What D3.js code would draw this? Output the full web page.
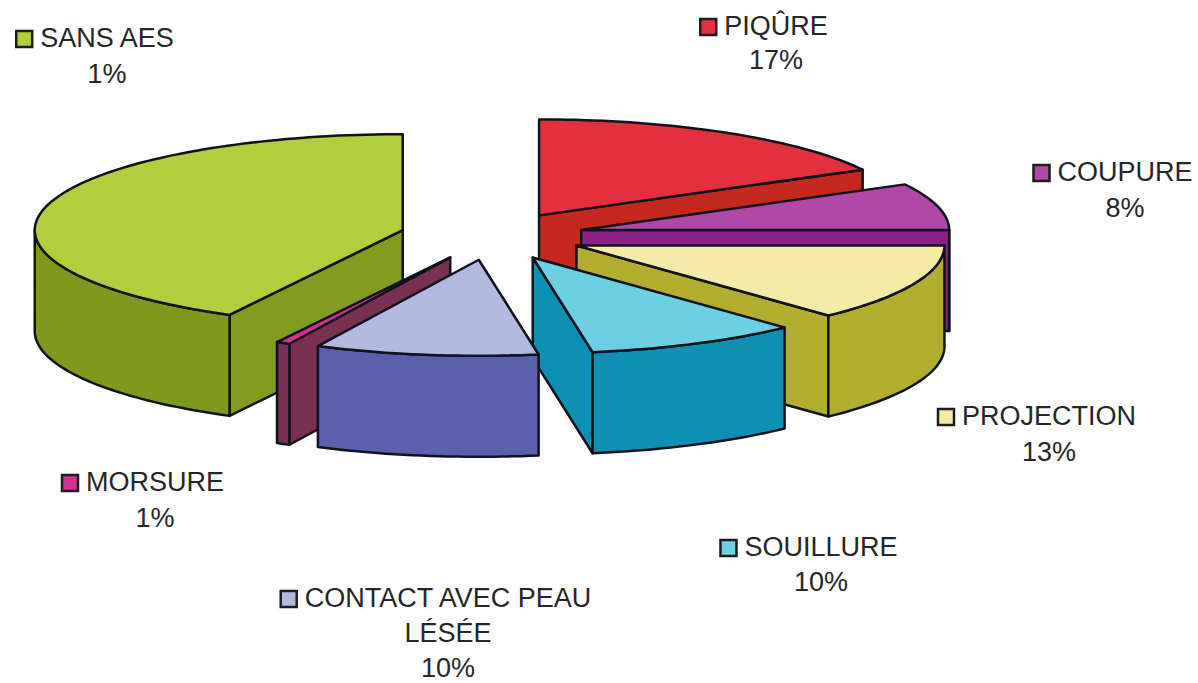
<!DOCTYPE html>
<html lang="fr">
<head>
  <meta charset="UTF-8">
  <title>Répartition des AES</title>
  <script src="https://d3js.org/d3.v7.min.js"></script>
</head>
<style>
  body { margin: 0; background: white; }
  text {
    font-family: "Liberation Sans", Arial, sans-serif;
    font-size: 27px;
    fill: #262626;
    text-anchor: middle;
  }
  .edge {
    stroke: #11131c;
    stroke-width: 2.5px;
    stroke-linejoin: round;
  }
  .swatch {
    stroke: #1c1c1c;
    stroke-width: 2.5px;
  }
</style>
<body>
<svg id="chart" width="1198" height="683"></svg>

<script>
  // Clockwise from 12 o'clock. The printed labels do not add up to the drawn
  // slices, so the share of each slice is read from the picture on its own.
  const categories = ["PIQÛRE", "COUPURE", "PROJECTION", "SOUILLURE", "CONTACT AVEC PEAU", "MORSURE", "SANS AES"];
  const percentLabels = ["17%", "8%", "13%", "10%", "10%", "1%", "1%"];
  const sliceShares = [17.1, 7.9, 13, 9.4, 9.8, 0.6, 42.2];

  const topColors = ["#e2303f", "#b048a8", "#f5eba8", "#6cd0e2", "#b2bae2", "#d8308f", "#b0cf3a"];
  const sideColors = ["#c4281f", "#8c2088", "#b3ad30", "#0d90b4", "#5a60ac", "#7a3050", "#829c20"];
  const rimColors = ["#c4281f", "#5a2a80", "#b3ad30", "#0d90b4", "#5a60ac", "#7a3050", "#7d991e"];

  // Text centre, first baseline and line step of each legend entry, same order as categories.
  const legendX = [776, 1125, 1049, 821, 448, 155, 107];
  const legendY = [35, 181, 425, 556, 607, 491, 47];
  const legendStep = [34, 36, 36, 35, 35, 36, 36];

  const width = 1198, height = 683;
  const radiusX = 368, radiusY = 96, depth = 101;
  const explode = 0.25;

  // The pie lives in a unit disc, these scales lay it down on the page.
  const x = d3.scaleLinear().domain([-1, 1]).range([492 - radiusX, 492 + radiusX]);
  const y = d3.scaleLinear().domain([-1, 1]).range([236 - radiusY, 236 + radiusY]);

  const svg = d3.select("#chart");
  const line = d3.line();

  const arcs = d3.pie().sort(null).value(d => d)(sliceShares);

  function polar(angle, r) {
    return [r * Math.sin(angle), -r * Math.cos(angle)];
  }

  // Builds the outlines of one slice, in page pixels.
  function sliceShape(arc, i) {
    let mid = (arc.startAngle + arc.endAngle) / 2;
    let off = polar(mid, explode);
    let at = (angle, r, drop) => {
      let p = polar(angle, r);
      return [x(off[0] + p[0]), y(off[1] + p[1]) + drop];
    };
    let sample = (a0, a1) => {
      let n = Math.max(2, Math.ceil((a1 - a0) * 40));
      return d3.range(n + 1).map(k => a0 + (a1 - a0) * k / n);
    };

    let apex = at(0, 0, 0);
    let inner = at(mid, 0.5, 0);
    let walls = [];

    // A flat side only shows if it faces the viewer.
    [arc.startAngle, arc.endAngle].forEach(angle => {
      let p = at(angle, 1, 0);
      let nx = -(p[1] - apex[1]), ny = p[0] - apex[0];
      if (nx * (inner[0] - apex[0]) + ny * (inner[1] - apex[1]) > 0) { ny = -ny; }
      if (ny > 0) {
        walls.push({
          points: [apex, p, at(angle, 1, depth), at(angle, 0, depth)],
          fill: sideColors[i]
        });
      }
    });

    // The rim shows on the front half of the ellipse only.
    let a0 = Math.max(arc.startAngle, Math.PI / 2);
    let a1 = Math.min(arc.endAngle, 3 * Math.PI / 2);
    if (a1 > a0) {
      let angles = sample(a0, a1);
      walls.push({
        points: angles.map(a => at(a, 1, 0)).concat(angles.slice().reverse().map(a => at(a, 1, depth))),
        fill: rimColors[i]
      });
    }

    let top = [apex].concat(sample(arc.startAngle, arc.endAngle).map(a => at(a, 1, 0)));
    return { walls: walls, top: top, fill: topColors[i] };
  }

  // Back to front, so nearer slices cover the walls of the ones behind them.
  const drawOrder = [6, 5, 0, 1, 2, 3, 4];

  const slices = svg.append("g").selectAll("g")
          .data(drawOrder.map(i => sliceShape(arcs[i], i)))
          .join("g");

  slices.selectAll("path.wall")
          .data(d => d.walls)
          .join("path")
          .attr("class", "wall edge")
          .attr("fill", d => d.fill)
          .attr("d", d => line(d.points) + "Z");

  slices.append("path")
          .attr("class", "edge")
          .attr("fill", d => d.fill)
          .attr("d", d => line(d.top) + "Z");

  // Legend entries: swatch and name, then the percentage underneath.
  const entries = svg.append("g").selectAll("g")
          .data(categories)
          .join("g");

  entries.each(function(name, i) {
    let g = d3.select(this);
    let lines = name == "CONTACT AVEC PEAU" ? [name, "LÉSÉE"] : [name];
    lines = lines.concat(percentLabels[i]);

    g.selectAll("text")
            .data(lines)
            .join("text")
            .attr("x", legendX[i])
            .attr("y", (d, k) => legendY[i] + k * legendStep[i])
            .text(d => d);

    let textWidth = g.select("text").node().getComputedTextLength();
    g.append("rect")
            .attr("class", "swatch")
            .attr("x", legendX[i] - textWidth / 2 - 24)
            .attr("y", legendY[i] - 16)
            .attr("width", 16)
            .attr("height", 16)
            .attr("fill", topColors[i]);
  });
</script>
</body>
</html>
